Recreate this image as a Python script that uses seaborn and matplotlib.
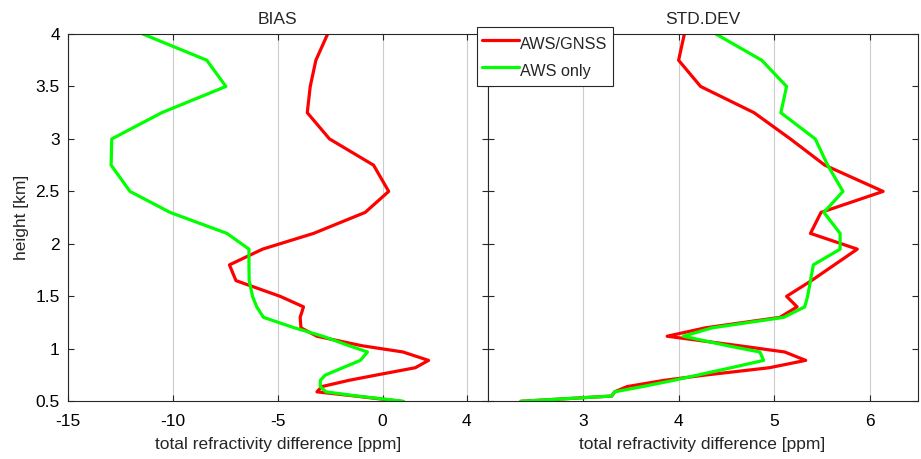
import matplotlib
matplotlib.use("Agg")
import matplotlib.pyplot as plt
import pandas as pd
import seaborn as sns

# ---- data -------------------------------------------------------------
heights = [0.50, 0.55, 0.59, 0.64, 0.70, 0.75, 0.82, 0.89, 0.97, 1.03, 1.12, 1.20,
           1.30, 1.40, 1.50, 1.65, 1.80, 1.95, 2.10, 2.30, 2.50, 2.75, 3.00, 3.25,
           3.50, 3.75, 4.00]

bias_aws_gnss = [0.88, -1.3, -3.13, -2.9, -1.6, -0.3, 1.56, 2.19, 0.97, -1.0, -3.13, -3.89,
                 -3.93, -3.77, -4.88, -6.99, -7.30, -5.72, -3.29, -0.83, 0.29, -0.43, -2.53, -3.59,
                 -3.45, -3.18, -2.62]
bias_aws_only = [1.0, -1.2, -2.7, -2.97, -2.97, -2.73, -1.9, -1.06, -0.72, -1.6, -2.85, -4.2,
                 -5.68, -6.0, -6.2, -6.36, -6.37, -6.37, -7.42, -10.13, -12.04, -12.94, -12.91, -10.53,
                 -7.47, -8.38, -11.43]

std_aws_gnss = [2.35, 3.30, 3.33, 3.46, 3.85, 4.28, 4.95, 5.33, 5.11, 4.63, 3.88, 4.28,
                5.06, 5.24, 5.13, 5.39, 5.63, 5.87, 5.38, 5.49, 6.14, 5.53, 5.17, 4.79,
                4.23, 4.00, 4.06]
std_aws_only = [2.35, 3.30, 3.33, 3.62, 3.95, 4.20, 4.55, 4.89, 4.85, 4.51, 4.05, 4.35,
                5.10, 5.32, 5.35, 5.38, 5.41, 5.69, 5.69, 5.52, 5.72, 5.56, 5.43, 5.07,
                5.13, 4.87, 4.39]

series_names = ["AWS/GNSS", "AWS only"]
panel_titles = ["BIAS", "STD.DEV"]
bias_ticks = [-15, -10, -5, 0, 4]
std_ticks = [3, 4, 5, 6]
height_ticks = [0.5, 1, 1.5, 2, 2.5, 3, 3.5, 4]
height_tick_labels = ["0.5", "1", "1.5", "2", "2.5", "3", "3.5", "4"]
x_label = "total refractivity difference [ppm]"
y_label = "height [km]"

# ---- style ------------------------------------------------------------
sns.set_style("white")
plt.rcParams['font.family'] = ['Liberation Sans', 'DejaVu Sans']
FS = 12.5
LFS = 11.7
axis_col = (0.15, 0.15, 0.15)

W, H = 921, 459
fig = plt.figure(figsize=(W / 100, H / 100), dpi=100)

top, bottom = 34.0, 401.3
ax1 = fig.add_axes([67.9 / W, 1 - bottom / H, (487.5 - 67.9) / W, (bottom - top) / H])
ax2 = fig.add_axes([487.5 / W, 1 - bottom / H, (917.5 - 487.5) / W, (bottom - top) / H])

palette = {series_names[0]: "#ff0000", series_names[1]: "#00ff00"}


def make_df(red_vals, green_vals):
    n = len(heights)
    return pd.DataFrame({
        "height": heights + heights,
        "value": red_vals + green_vals,
        "series": [series_names[0]] * n + [series_names[1]] * n,
    })


panels = [
    (ax1, make_df(bias_aws_gnss, bias_aws_only), (-15, 5), bias_ticks, panel_titles[0]),
    (ax2, make_df(std_aws_gnss, std_aws_only), (2, 6.5), std_ticks, panel_titles[1]),
]

for ax, df, xlim, xticks, title in panels:
    sns.lineplot(data=df, x="value", y="height", hue="series", palette=palette,
                 sort=False, estimator=None, orient="y", linewidth=2.3,
                 ax=ax, legend=False)
    ax.set_xlim(*xlim)
    ax.set_ylim(0.5, 4)
    ax.set_xticks(xticks)
    ax.set_xticklabels([str(t) for t in xticks], fontsize=FS)
    ax.set_yticks(height_ticks)
    ax.xaxis.grid(True, color=(0.8, 0.8, 0.8), linewidth=0.8)
    ax.yaxis.grid(False)
    ax.set_axisbelow(True)
    ax.set_title(title, fontsize=FS, pad=7)
    ax.set_xlabel(x_label, fontsize=FS, labelpad=6)
    ax.tick_params(direction="in", top=True, right=True, left=True, bottom=True,
                   length=4, width=0.8, color=axis_col, labelcolor="black")
    ax.tick_params(axis="x", pad=9)
    ax.tick_params(axis="y", pad=5.8)
    for s in ax.spines.values():
        s.set_color(axis_col)
        s.set_linewidth(0.8)
        s.set_visible(True)

ax1.set_yticklabels(height_tick_labels, fontsize=FS)
ax1.set_ylabel(y_label, fontsize=FS, labelpad=5)
ax2.set_ylabel("")
ax2.tick_params(labelleft=False)

handles = ax1.get_lines()[:2]
leg = fig.legend(handles, series_names, loc="upper left",
                 bbox_to_anchor=(476.7 / W, 1 - 27.3 / H), borderaxespad=0,
                 fontsize=LFS, frameon=True, fancybox=False, framealpha=1,
                 edgecolor=axis_col, handlelength=2.31, handletextpad=0.08,
                 handleheight=1.74, labelspacing=0.28, borderpad=0.3)
leg.get_frame().set_linewidth(0.8)

fig.savefig("out.png", dpi=100)
